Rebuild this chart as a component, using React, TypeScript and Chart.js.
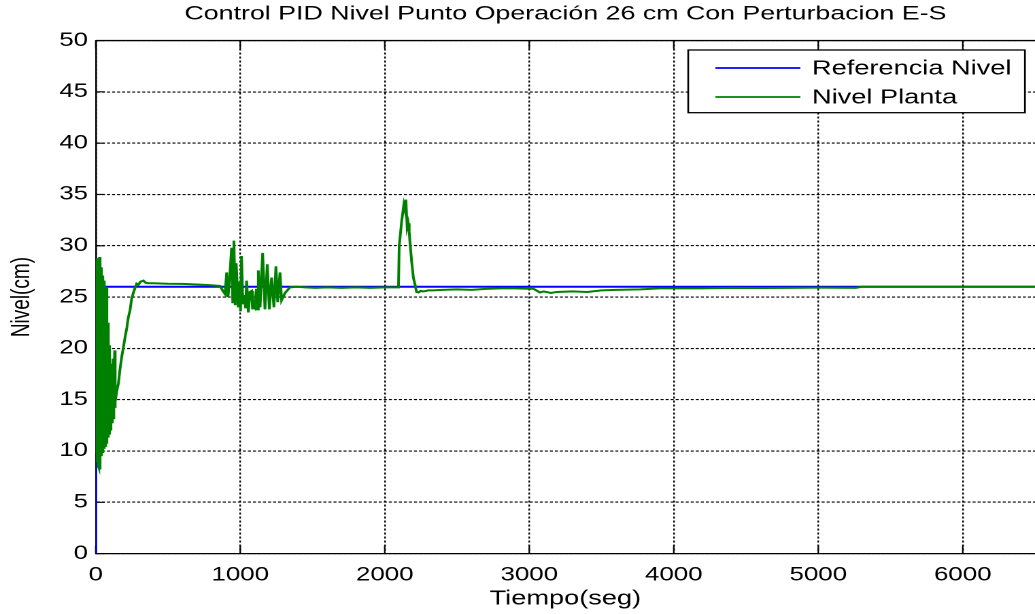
import React, { useEffect, useRef } from "react";
import { Chart, registerables } from "chart.js";

Chart.register(...registerables);

// ---------- text ----------
const titleText = "Control PID Nivel Punto Operación 26 cm Con Perturbacion E-S";
const xAxisTitle = "Tiempo(seg)";
const yAxisTitle = "Nivel(cm)";
const seriesNames = ["Referencia Nivel", "Nivel Planta"];

// ---------- ticks ----------
const xTicks = [0, 1000, 2000, 3000, 4000, 5000, 6000];
const yTicks = [0, 5, 10, 15, 20, 25, 30, 35, 40, 45, 50];
const xMin = 0;
const xMax = 6500;
const yMin = 0;
const yMax = 50;

// ---------- series: Referencia Nivel ----------
const refTime = [0, 0, 6500];
const refLevel = [0, 26, 26];

// ---------- series: Nivel Planta ----------
const plantTime = [
  0, 2, 4, 6, 8, 10, 12, 14, 16, 18, 20, 22, 24, 26, 28, 30, 32, 34, 36, 38,
  40, 42, 44, 46, 48, 50, 52, 54, 56, 58, 60, 62, 64, 66, 68, 70, 72, 74, 76, 78,
  80, 82, 84, 86, 88, 90, 92, 94, 96, 98, 100, 102, 104, 106, 108, 110, 112, 114,
  116, 118, 120, 122, 124, 126, 128, 131, 133, 136,
  145, 157, 168, 180, 190, 203, 215, 225, 237, 248, 260, 272, 283, 295, 310, 330,
  345, 364, 400, 500, 600, 700, 800, 860, 880, 895, 906, 915, 925, 940, 948, 956,
  965, 972, 986, 995, 1002, 1009, 1018, 1030, 1037, 1044, 1056, 1067, 1079, 1085,
  1091, 1100, 1112, 1118, 1125, 1137, 1155, 1171, 1187, 1201, 1217, 1233, 1247,
  1259, 1275, 1286, 1310, 1344, 1390, 1450, 1520, 1600, 1700, 1800, 1900, 2000,
  2095, 2100, 2118, 2132, 2140, 2146, 2155, 2162, 2169, 2174, 2186, 2198, 2209,
  2220, 2232, 2250, 2267, 2300, 2336, 2400, 2500, 2600, 2700, 2800, 2900, 3030,
  3073, 3100, 3150, 3190, 3300, 3400, 3500, 3600, 3770, 3900, 4000, 4190, 4400,
  4600, 4800, 5000, 5260, 5300, 6500,
];
const plantLevel = [
  26.5, 28.6, 9.8, 28.5, 9.2, 28.7, 8.9, 28.8, 8.6, 28.5, 8.4, 28.3, 8.5, 28.9, 8.3, 28.6, 8.2, 27.9, 9.5, 27.6,
  9.8, 27.3, 9.9, 27.1, 10.0, 26.9, 10.1, 26.6, 10.2, 26.3, 10.4, 26.0, 10.5, 25.6, 10.6, 25.0, 10.8, 25.9, 10.9, 23.5,
  11.1, 22.5, 11.3, 21.6, 11.5, 21.0, 11.7, 20.3, 11.9, 19.5, 12.1, 18.5, 12.3, 17.8, 12.5, 17.2, 12.7, 16.6,
  12.9, 16.2, 19.0, 13.1, 15.8, 13.4, 16.0, 19.8, 14.2, 14.8,
  15.8, 16.6, 18.0, 19.2, 20.0, 21.1, 22.0, 23.0, 23.7, 24.8, 25.4, 25.9, 26.3, 26.2, 26.5, 26.6,
  26.4, 26.35, 26.35, 26.3, 26.28, 26.22, 26.15, 26.08, 25.6, 25.3, 27.4, 25.0, 26.5, 29.8, 24.5, 30.5,
  24.2, 28.3, 24.0, 26.5, 23.6, 29.0, 24.3, 25.2, 23.9, 26.6, 23.5, 25.5, 25.6, 23.8,
  24.2, 24.0, 25.8, 23.8, 27.6, 24.0, 29.3, 23.8, 28.2, 23.8, 26.9, 24.0, 28.0,
  24.5, 27.4, 24.7, 25.4, 25.95, 26.0, 25.95, 25.9, 25.95, 25.9, 25.95, 25.9, 25.95,
  25.95, 30.0, 32.5, 34.0, 33.5, 34.5, 31.8, 32.2, 31.4, 30.4, 28.5, 26.9, 26.25,
  25.5, 25.45, 25.6, 25.55, 25.65, 25.65, 25.7, 25.75, 25.7, 25.8, 25.85, 25.85, 25.8,
  25.45, 25.55, 25.4, 25.5, 25.55, 25.5, 25.65, 25.7, 25.75, 25.85, 25.85, 25.85, 25.9,
  25.88, 25.9, 25.92, 25.9, 26.0, 26.0,
];

// ---------- look ----------
const FONT = "'Liberation Sans', Arial, Helvetica, sans-serif";
const SCREEN_W = 1035;
const SCREEN_H = 614;
const LOGICAL_W = 761; // drawn narrow, shown stretched (the reference is horizontally stretched)
const refColor = "#0000ff";
const plantColor = "#008000";

const framePlugin = {
  id: "matlabFrame",
  beforeDatasetsDraw(chart: any) {
    const { ctx, chartArea, scales } = chart;
    const { left, right, top, bottom } = chartArea;
    const x = scales.x;
    const y = scales.y;
    ctx.save();
    ctx.strokeStyle = "#000";
    ctx.lineWidth = 1.3;
    ctx.setLineDash([]);
    ctx.beginPath();
    ctx.moveTo(left, top);
    ctx.lineTo(right, top);
    ctx.stroke();
    ctx.lineWidth = 1.1;
    ctx.beginPath();
    yTicks.forEach((v) => {
      const py = y.getPixelForValue(v);
      ctx.moveTo(left, py);
      ctx.lineTo(left + 6.6, py);
    });
    xTicks.forEach((v) => {
      const px = x.getPixelForValue(v);
      ctx.moveTo(px, bottom);
      ctx.lineTo(px, bottom - 8);
      ctx.moveTo(px, top);
      ctx.lineTo(px, top + 8);
    });
    ctx.stroke();
    ctx.restore();
  },
  afterDatasetsDraw(chart: any) {
    const { ctx } = chart;
    const bx0 = 506;
    const bx1 = 753.6;
    const by0 = 50;
    const by1 = 112.7;
    ctx.save();
    ctx.fillStyle = "#fff";
    ctx.fillRect(bx0, by0, bx1 - bx0, by1 - by0);
    ctx.strokeStyle = "#000";
    ctx.lineWidth = 1.3;
    ctx.strokeRect(bx0, by0, bx1 - bx0, by1 - by0);
    const rows = [68, 97];
    const colors = [refColor, plantColor];
    ctx.font = `20px ${FONT}`;
    ctx.textBaseline = "middle";
    ctx.textAlign = "left";
    rows.forEach((ry, i) => {
      ctx.strokeStyle = colors[i];
      ctx.lineWidth = 1.8;
      ctx.beginPath();
      ctx.moveTo(526, ry);
      ctx.lineTo(588.5, ry);
      ctx.stroke();
      ctx.fillStyle = "#000";
      ctx.fillText(seriesNames[i], 597, ry + 1);
    });
    ctx.restore();
  },
};

export default function App() {
  const canvasRef = useRef<HTMLCanvasElement | null>(null);

  useEffect(() => {
    const canvas = canvasRef.current;
    if (!canvas) return;
    const refData = refTime.map((t, i) => ({ x: t, y: refLevel[i] }));
    const plantData = plantTime.map((t, i) => ({ x: t, y: plantLevel[i] }));

    const chart = new Chart(canvas, {
      type: "line",
      data: {
        datasets: [
          {
            label: seriesNames[0],
            data: refData,
            borderColor: refColor,
            backgroundColor: refColor,
            borderWidth: 2,
            pointRadius: 0,
            tension: 0,
            order: 1,
          },
          {
            label: seriesNames[1],
            data: plantData,
            borderColor: plantColor,
            backgroundColor: plantColor,
            borderWidth: 2,
            pointRadius: 0,
            tension: 0,
            order: 0,
          },
        ],
      },
      options: {
        animation: false,
        responsive: false,
        devicePixelRatio: 2,
        events: [],
        layout: { padding: 0 },
        plugins: {
          legend: { display: false },
          tooltip: { enabled: false },
          title: {
            display: true,
            text: titleText,
            fullSize: false,
            color: "#000",
            font: { family: FONT, size: 19.7, weight: "normal", lineHeight: 1.2 },
            padding: { top: 2.5, bottom: 14.4 },
          },
        },
        scales: {
          x: {
            type: "linear",
            min: xMin,
            max: xMax,
            afterBuildTicks: (s: any) => {
              s.ticks = xTicks.map((v) => ({ value: v }));
            },
            afterFit: (s: any) => {
              s.height = 60.4;
            },
            ticks: {
              color: "#000",
              font: { family: FONT, size: 19 },
              padding: 10.5,
              maxRotation: 0,
              autoSkip: false,
              includeBounds: false,
              callback: (v: any) => String(v),
            },
            grid: { color: "#000", lineWidth: 1.2, drawTicks: false },
            border: { display: true, color: "#000", width: 1.3, dash: [2, 2] },
            title: {
              display: true,
              text: xAxisTitle,
              color: "#000",
              font: { family: FONT, size: 20, lineHeight: 1.2 },
              padding: { top: 0, bottom: 3.2 },
            },
          },
          y: {
            type: "linear",
            min: yMin,
            max: yMax,
            afterBuildTicks: (s: any) => {
              s.ticks = yTicks.map((v) => ({ value: v }));
            },
            afterFit: (s: any) => {
              s.width = 70.4;
            },
            ticks: {
              color: "#000",
              font: { family: FONT, size: 19 },
              padding: 5.7,
              autoSkip: false,
              includeBounds: false,
              callback: (v: any) => String(v),
            },
            grid: { color: "#000", lineWidth: 1.1, drawTicks: false },
            border: { display: true, color: "#000", width: 1.3, dash: [2.2, 1.5] },
            title: {
              display: true,
              text: yAxisTitle,
              color: "#000",
              font: { family: FONT, size: 19, lineHeight: 1.2 },
              padding: { top: 4.8, bottom: 0 },
            },
          },
        },
      },
      plugins: [framePlugin],
    } as any);

    return () => {
      chart.destroy();
    };
  }, []);

  return (
    <div
      style={{
        position: "fixed",
        left: 0,
        top: 0,
        width: SCREEN_W,
        height: SCREEN_H,
        overflow: "hidden",
        background: "#fff",
      }}
    >
      <canvas
        ref={canvasRef}
        width={LOGICAL_W}
        height={SCREEN_H}
        style={{ width: `${SCREEN_W}px`, height: `${SCREEN_H}px`, display: "block" }}
      />
    </div>
  );
}
